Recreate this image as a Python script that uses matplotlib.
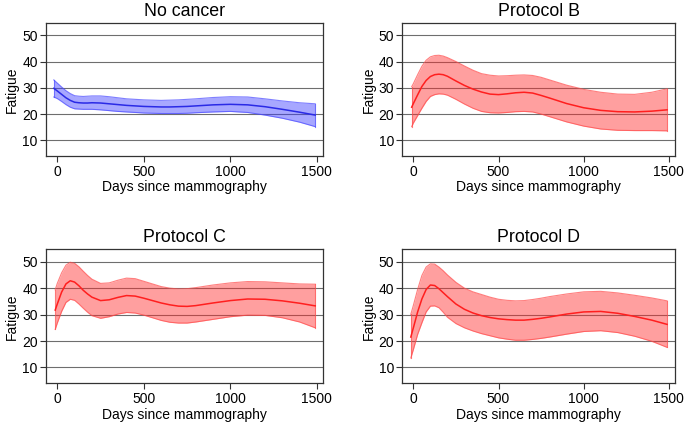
import numpy as np
import matplotlib
matplotlib.use('Agg')
import matplotlib.pyplot as plt

# Days since mammography (x values), shared after the first point
daysCommon = [0, 25, 50, 75, 100, 125, 150, 175, 200, 250, 300, 350, 400, 450, 500, 550, 600, 650, 700, 750, 800, 900, 1000, 1100, 1200, 1300, 1400, 1490]
daysNoCancer = [-20] + daysCommon
daysB = [-10] + daysCommon
daysC = [-12] + daysCommon
daysD = [-15] + daysCommon

# No cancer
fitNoCancer = [29.8, 28.8, 27.5, 26.2, 25.2, 24.5, 24.3, 24.2, 24.2, 24.3, 24.2, 23.9, 23.6, 23.3, 23.1, 22.9, 22.8, 22.7, 22.7, 22.8, 22.9, 23.1, 23.5, 23.7, 23.5, 22.8, 21.8, 20.7, 19.6]
upperNoCancer = [33.0, 31.8, 30.3, 28.9, 27.8, 27.0, 26.8, 26.7, 26.8, 26.9, 26.9, 26.6, 26.2, 25.8, 25.6, 25.4, 25.3, 25.2, 25.3, 25.4, 25.6, 25.8, 26.3, 26.6, 26.5, 25.8, 25.0, 24.3, 23.9]
lowerNoCancer = [26.5, 25.9, 24.8, 23.6, 22.6, 22.0, 21.9, 21.8, 21.8, 21.8, 21.6, 21.3, 21.0, 20.8, 20.6, 20.4, 20.3, 20.2, 20.2, 20.2, 20.3, 20.5, 20.8, 21.0, 20.6, 19.6, 18.4, 16.9, 15.2]

# Protocol B
fitB = [22.6, 24.0, 27.3, 30.5, 32.8, 34.3, 35.0, 35.2, 35.0, 34.4, 32.6, 30.9, 29.5, 28.4, 27.6, 27.4, 27.7, 28.1, 28.3, 28.0, 27.1, 26.1, 24.0, 22.4, 21.4, 20.9, 20.8, 21.1, 21.6]
upperB = [30.4, 31.6, 35.0, 38.2, 40.5, 41.8, 42.3, 42.4, 42.1, 41.5, 40.0, 38.3, 36.7, 35.4, 34.8, 34.5, 34.6, 34.8, 34.9, 34.7, 34.0, 33.0, 31.0, 29.4, 28.3, 27.6, 27.5, 28.3, 29.6]
lowerB = [15.2, 16.6, 19.4, 22.2, 24.8, 26.7, 27.4, 27.7, 27.6, 27.2, 25.6, 23.8, 22.2, 21.0, 20.5, 20.4, 20.6, 20.9, 21.0, 20.8, 20.0, 19.0, 17.0, 15.4, 14.3, 13.8, 13.7, 13.7, 13.6]

# Protocol C
fitC = [31.7, 34.0, 38.5, 41.6, 42.8, 42.3, 40.9, 39.2, 37.8, 36.6, 35.3, 35.6, 36.5, 37.2, 37.0, 36.2, 35.3, 34.4, 33.7, 33.2, 33.1, 33.4, 34.4, 35.3, 35.9, 35.8, 35.2, 34.3, 33.3]
upperC = [39.4, 41.8, 45.8, 48.7, 49.8, 49.4, 48.1, 46.4, 44.8, 43.4, 41.8, 42.0, 43.0, 43.8, 43.6, 42.6, 41.6, 40.6, 40.0, 39.7, 39.8, 40.2, 41.2, 42.0, 42.5, 42.4, 42.0, 41.6, 41.5]
lowerC = [24.4, 26.8, 31.2, 34.6, 35.8, 35.4, 34.0, 32.4, 30.9, 29.6, 28.6, 29.2, 30.2, 30.8, 30.6, 29.8, 28.8, 27.8, 27.1, 26.8, 26.8, 27.2, 28.2, 29.2, 29.8, 29.7, 28.8, 27.2, 25.0]

# Protocol D
fitD = [21.5, 25.0, 31.0, 35.9, 39.5, 41.2, 41.0, 39.8, 38.3, 36.8, 34.0, 32.0, 30.6, 29.6, 28.9, 28.4, 28.1, 27.9, 27.9, 28.2, 28.6, 29.1, 30.2, 31.0, 31.2, 30.5, 29.3, 27.9, 26.3]
upperD = [30.1, 33.5, 39.5, 44.8, 48.0, 49.2, 49.1, 48.0, 46.6, 45.0, 42.2, 40.0, 38.6, 37.6, 36.6, 35.8, 35.4, 35.2, 35.3, 35.7, 36.2, 36.8, 37.8, 38.6, 38.8, 38.2, 37.3, 36.3, 35.2]
lowerD = [13.6, 16.8, 22.5, 26.9, 31.0, 33.2, 33.3, 32.6, 30.9, 29.0, 26.6, 25.0, 23.8, 22.8, 22.0, 21.2, 20.7, 20.3, 20.3, 20.6, 21.0, 21.5, 22.6, 23.6, 23.9, 23.2, 21.8, 19.9, 17.6]

titles = ["No cancer", "Protocol B", "Protocol C", "Protocol D"]
yticks = [10, 20, 30, 40, 50]
xticks = [0, 500, 1000, 1500]


def plotPanel(ax, title, days, fit, lower, upper, lineColor, fillColor, edgeColor):
  # Confidence band and fitted line
  ax.fill_between(days, lower, upper, color = fillColor, alpha = 0.45, linewidth = 0, zorder = 2)
  for curve in (upper, lower):
    ax.plot(days, curve, color = edgeColor, linewidth = 0.8, alpha = 0.7, zorder = 3)
  ax.plot([days[0], days[0]], [lower[0], upper[0]], color = edgeColor, linewidth = 0.8, alpha = 0.7, zorder = 3)
  ax.plot([days[-1], days[-1]], [lower[-1], upper[-1]], color = edgeColor, linewidth = 0.8, alpha = 0.7, zorder = 3)
  ax.plot(days, fit, color = lineColor, linewidth = 1.1, zorder = 4, solid_joinstyle = 'round')

  # Grid
  for y in yticks:
    ax.axhline(y, color = '#6e6e6e', linewidth = 0.8, zorder = 1)

  ax.set_xlim(-65, 1535)
  ax.set_ylim(4, 54.7)
  ax.set_xticks(xticks)
  ax.set_yticks(yticks)
  ax.tick_params(axis = 'both', direction = 'out', labelsize = 10, length = 4, width = 0.8, color = '#333333')
  ax.tick_params(axis = 'x', pad = 2.5)
  ax.tick_params(axis = 'y', pad = 2)
  for spine in ax.spines.values():
    spine.set_color('#333333')
    spine.set_linewidth(0.9)

  ax.set_title(title, fontsize = 12.8, pad = 5)
  ax.set_xlabel('Days since mammography', fontsize = 10, labelpad = 1)
  ax.set_ylabel('Fatigue', fontsize = 10, labelpad = 2)


plt.rcParams['font.family'] = ['Liberation Sans', 'DejaVu Sans']

fig = plt.figure(figsize = (6.85, 4.22), dpi = 100)

positions = [
  [0.0672, 0.6303, 0.4043, 0.3152],
  [0.5873, 0.6303, 0.3977, 0.3152],
  [0.0672, 0.0917, 0.4043, 0.3175],
  [0.5873, 0.0917, 0.3977, 0.3175],
]

blueLine = '#2a2ae6'
blueFill = '#3c3cff'
blueEdge = '#4a4aff'
redLine = '#ff1f1f'
redFill = '#ff2a2a'
redEdge = '#ff4a4a'

panels = [
  (daysNoCancer, fitNoCancer, lowerNoCancer, upperNoCancer, blueLine, blueFill, blueEdge),
  (daysB, fitB, lowerB, upperB, redLine, redFill, redEdge),
  (daysC, fitC, lowerC, upperC, redLine, redFill, redEdge),
  (daysD, fitD, lowerD, upperD, redLine, redFill, redEdge),
]

for i in range(4):
  ax = fig.add_axes(positions[i])
  days, fit, lower, upper, lc, fc, ec = panels[i]
  plotPanel(ax, titles[i], days, fit, lower, upper, lc, fc, ec)

plt.savefig('out.png', dpi = 100)
